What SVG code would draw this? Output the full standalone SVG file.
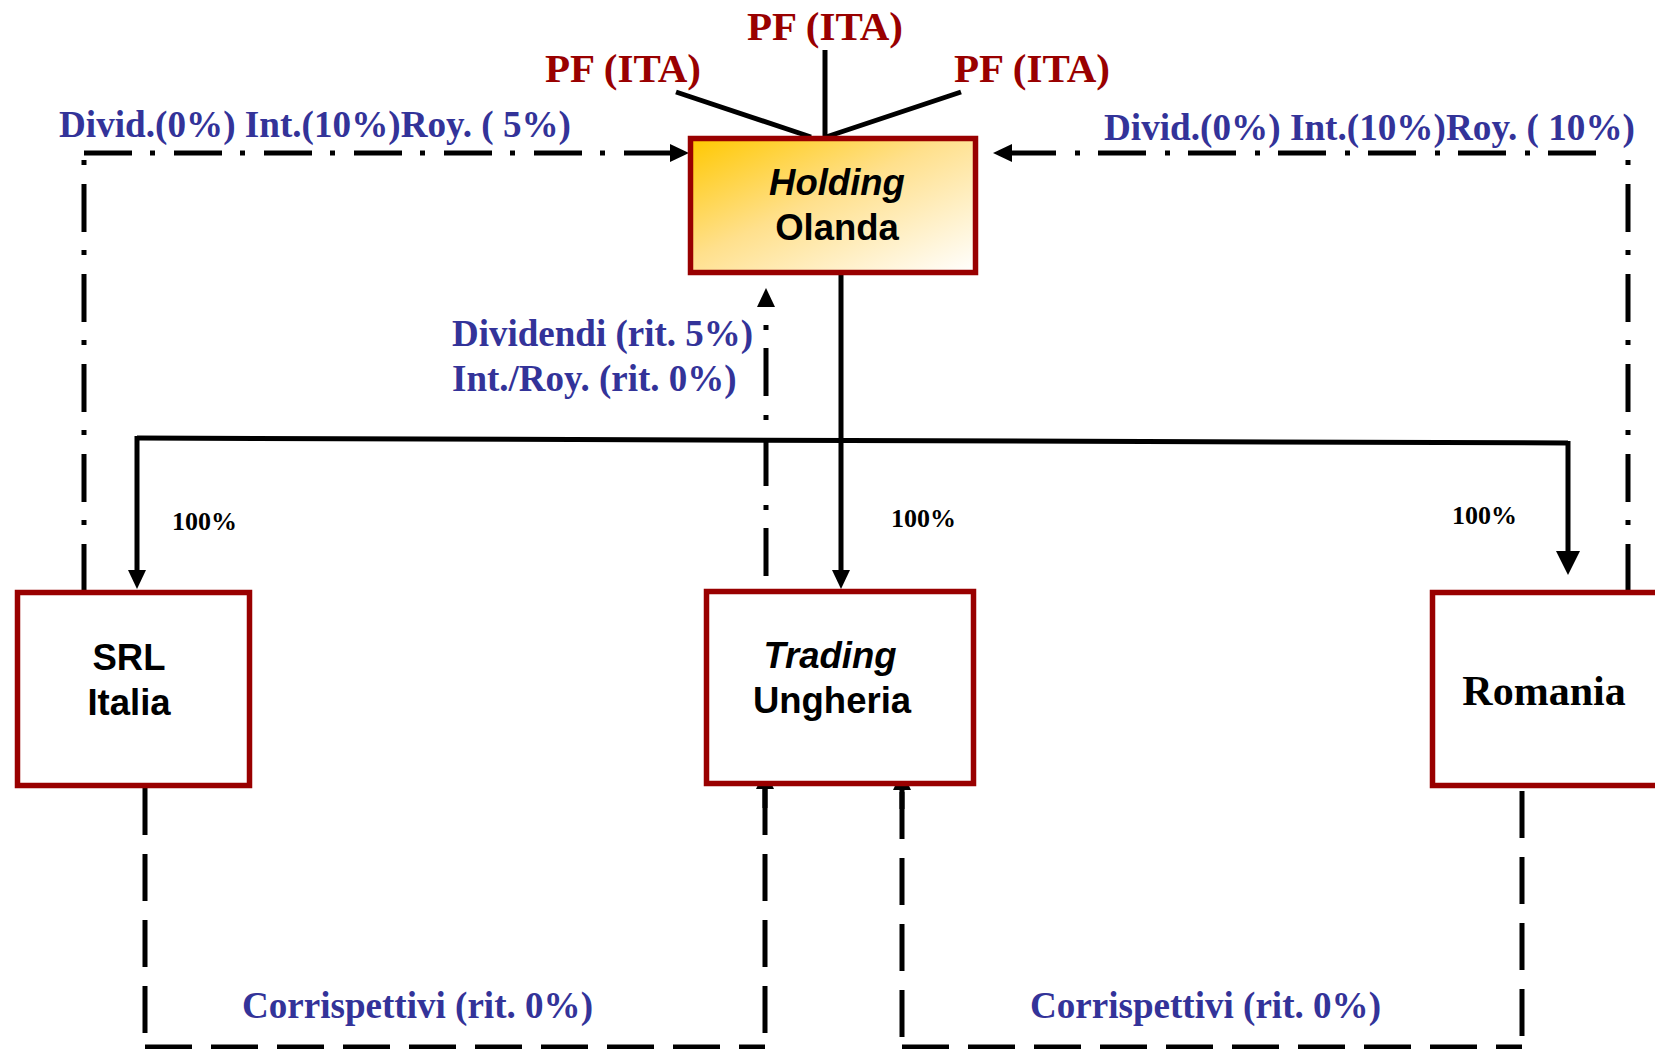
<svg xmlns="http://www.w3.org/2000/svg" width="1655" height="1049" viewBox="0 0 1655 1049">
  <defs>
    <linearGradient id="holdingFill" x1="0" y1="0" x2="1" y2="1">
      <stop offset="0" stop-color="#FFC800"/>
      <stop offset="0.45" stop-color="#FFE08C"/>
      <stop offset="1" stop-color="#FFFFFF"/>
    </linearGradient>
    <marker id="arr" markerUnits="userSpaceOnUse" markerWidth="19" markerHeight="18" refX="0" refY="9" orient="auto" overflow="visible">
      <path d="M0,0 L19,9 L0,18 Z" fill="#000"/>
    </marker>
    <marker id="arrBig" markerUnits="userSpaceOnUse" markerWidth="24" markerHeight="24" refX="0" refY="12" orient="auto" overflow="visible">
      <path d="M0,0 L24,12 L0,24 Z" fill="#000"/>
    </marker>
    <style>
      .box { fill: #fff; stroke: #990000; stroke-width: 5.5; }
      .solid { fill: none; stroke: #000; stroke-width: 5; }
      .dashdot { fill: none; stroke: #000; stroke-width: 5; stroke-dasharray: 48 18 5 19; }
      .dashed { fill: none; stroke: #000; stroke-width: 5; stroke-dasharray: 47 19; }
      .name { font-family: "Liberation Sans", Arial, sans-serif; font-weight: bold; font-size: 36.5px; fill: #000; text-anchor: middle; }
      .it { font-style: italic; }
      .pf { font-family: "Liberation Serif", "Times New Roman", serif; font-weight: bold; font-size: 41px; fill: #990000; text-anchor: middle; }
      .flow { font-family: "Liberation Serif", "Times New Roman", serif; font-weight: bold; font-size: 37px; fill: #333399; }
      .pct { font-family: "Liberation Serif", "Times New Roman", serif; font-weight: bold; font-size: 26px; fill: #000; }
    </style>
  </defs>

  <rect width="1655" height="1049" fill="#fff"/>

  <!-- connectors -->
  <g id="connectors">
    <!-- shareholders to holding -->
    <path class="solid" d="M825,50 V137"/>
    <path class="solid" d="M676,92 L811,137"/>
    <path class="solid" d="M961,92 L826,137"/>

    <!-- holding to subsidiaries (100%) -->
    <path class="solid" d="M841,274 V570" marker-end="url(#arr)"/>
    <path class="solid" d="M137,438 L1568,443"/>
    <path class="solid" d="M137,436 V570" marker-end="url(#arr)"/>
    <path class="solid" stroke-width="7" d="M1568,441 V551" marker-end="url(#arrBig)"/>

    <!-- flows to holding (dash-dot) -->
    <path class="dashdot" d="M84,153 H670" marker-end="url(#arr)"/>
    <path class="dashdot" stroke-dashoffset="61" d="M84,155 V591"/>
    <path class="dashdot" d="M1596,153 H1012" marker-end="url(#arr)"/>
    <path class="dashdot" stroke-dashoffset="61" d="M1628,155 V591"/>
    <path class="dashdot" d="M766,576 V307" marker-end="url(#arr)"/>

    <!-- service fees to trading (dashed) -->
    <path class="dashed" d="M145,788 V1047"/>
    <path class="dashed" d="M145,1047 H765"/>
    <path class="dashed" d="M765,788 V1047"/>
    <path class="solid" d="M765,808 V789" marker-end="url(#arr)"/>
    <path class="dashed" d="M1522,791 V1047"/>
    <path class="dashed" d="M902,1047 H1522"/>
    <path class="dashed" d="M902,792 V1047"/>
    <path class="solid" d="M902,809 V790" marker-end="url(#arr)"/>
  </g>

  <!-- shareholders -->
  <g id="pf-center"><text class="pf" x="825" y="40">PF (ITA)</text></g>
  <g id="pf-left"><text class="pf" x="623" y="82">PF (ITA)</text></g>
  <g id="pf-right"><text class="pf" x="1032" y="82">PF (ITA)</text></g>

  <!-- holding -->
  <g id="holding">
    <rect x="690.5" y="138.5" width="285" height="134" fill="url(#holdingFill)" stroke="#990000" stroke-width="5.5"/>
    <text class="name it" x="837" y="195">Holding</text>
    <text class="name" x="837" y="240">Olanda</text>
  </g>

  <!-- subsidiaries -->
  <g id="srl-italia">
    <rect class="box" x="17.5" y="592.5" width="232" height="193"/>
    <text class="name" x="129" y="670">SRL</text>
    <text class="name" x="129" y="715">Italia</text>
  </g>
  <g id="trading-ungheria">
    <rect class="box" x="706.5" y="591.5" width="267" height="192"/>
    <text class="name it" x="830" y="668">Trading</text>
    <text class="name" x="832" y="713">Ungheria</text>
  </g>
  <g id="romania">
    <rect class="box" x="1432.5" y="592.5" width="300" height="193"/>
    <text x="1544" y="705" text-anchor="middle" font-family="Liberation Serif, 'Times New Roman', serif" font-weight="bold" font-size="42">Romania</text>
  </g>

  <!-- labels -->
  <g id="labels">
    <text class="flow" x="59" y="137" textLength="512" lengthAdjust="spacingAndGlyphs">Divid.(0%) Int.(10%)Roy. ( 5%)</text>
    <text class="flow" x="1104" y="140" textLength="531" lengthAdjust="spacingAndGlyphs">Divid.(0%) Int.(10%)Roy. ( 10%)</text>
    <text class="flow" x="452" y="346">Dividendi (rit. 5%)</text>
    <text class="flow" x="452" y="391">Int./Roy. (rit. 0%)</text>
    <text class="flow" x="242" y="1018" textLength="351" lengthAdjust="spacingAndGlyphs">Corrispettivi (rit. 0%)</text>
    <text class="flow" x="1030" y="1018" textLength="351" lengthAdjust="spacingAndGlyphs">Corrispettivi (rit. 0%)</text>
    <text class="pct" x="172" y="530">100%</text>
    <text class="pct" x="891" y="527">100%</text>
    <text class="pct" x="1452" y="524">100%</text>
  </g>
</svg>
